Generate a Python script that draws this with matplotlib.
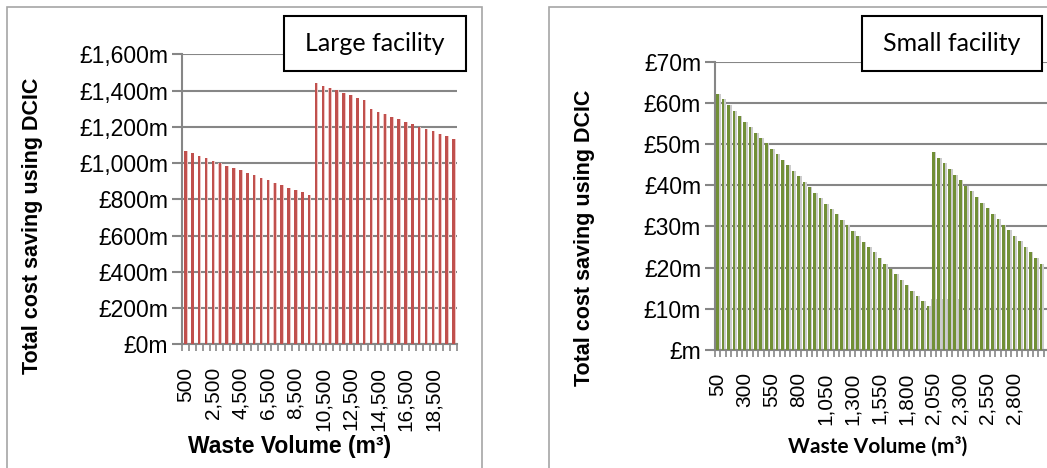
import numpy as np
import matplotlib
matplotlib.use("Agg")
import matplotlib.pyplot as plt
from matplotlib.patches import Rectangle
from matplotlib.ticker import FixedLocator

# large facility: waste volume 500..20,000 m3, step 500
large_volumes = list(range(500, 20001, 500))
large_saving = [1067, 1054, 1041, 1028, 1013, 999, 986, 973, 960, 945,
                932, 920, 907, 892, 879, 864, 851, 839, 824,
                1442, 1427, 1414, 1402, 1387, 1374, 1361, 1348, 1298, 1284,
                1269, 1256, 1243, 1228, 1214, 1201, 1188, 1175, 1162, 1148, 1135]

# small facility: waste volume 50..3,050 m3, step 50
small_volumes = list(range(50, 3051, 50))
small_saving = [62.1, 60.9, 59.4, 58.0, 56.7, 55.4, 54.1, 52.8, 51.4, 50.2,
                48.8, 47.5, 46.2, 44.9, 43.5, 42.2, 40.9, 39.5, 38.2, 36.9,
                35.5, 34.2, 32.9, 31.6, 30.3, 29.0, 27.6, 26.3, 25.0, 23.7,
                22.4, 21.0, 19.7, 18.4, 17.1, 15.8, 14.4, 13.1, 11.8, 10.8,
                48.0, 46.6, 45.3, 43.9, 42.6, 41.2, 39.9, 38.5, 37.2, 35.8,
                34.5, 33.1, 31.8, 30.4, 29.1, 27.7, 26.4, 25.0, 23.7, 22.3, 20.9]
# stray shadow block seen behind 2,050..2,300
small_shadow_vol = [2050, 2100, 2150, 2200, 2250, 2300]
small_shadow_val = [12.3, 12.3, 12.3, 12.3, 12.3, 12.3]

W, H = 1047, 468
fig = plt.figure(figsize=(W / 100, H / 100), dpi=100)

grid_c = "#868686"
arial = "Liberation Sans"


def px(x0, y0, x1, y1):
    return [x0 / W, 1 - y1 / H, (x1 - x0) / W, (y1 - y0) / H]


def style_axes(ax, n, label_step, n_labels):
    ax.set_xlim(-0.5, n - 0.5)
    for s in ["top", "right"]:
        ax.spines[s].set_visible(False)
    for s in ["left", "bottom"]:
        ax.spines[s].set_color(grid_c)
        ax.spines[s].set_linewidth(1.5)
    ax.yaxis.grid(True, color=grid_c, lw=1.5)
    ax.set_axisbelow(True)
    ax.tick_params(axis="y", length=7, width=1.5, color=grid_c, pad=3)
    ax.set_xticks(np.arange(n_labels) * label_step)
    ax.tick_params(axis="x", which="major", length=0, pad=16)
    ax.xaxis.set_minor_locator(FixedLocator(np.arange(-0.5, n, 1)))
    ax.tick_params(axis="x", which="minor", length=5, width=1.2, color=grid_c)


def place_labels(ax, xl, yl):
    ax.xaxis.label.set_va("center")
    ax.xaxis.set_label_coords(*xl)
    ax.yaxis.label.set_ha("center")
    ax.yaxis.label.set_va("center")
    ax.yaxis.set_label_coords(*yl)


# ---- left panel ----
ax1 = fig.add_axes(px(182, 54.3, 457, 344.3))
x1 = np.arange(len(large_volumes))
ax1.bar(x1 + 0.05, large_saving, width=0.5, color="#efc4c3", zorder=2)
ax1.bar(x1, large_saving, width=0.36, color="#c0504d", zorder=3)
style_axes(ax1, len(large_volumes), 4, 10)
ax1.set_ylim(0, 1600)
ax1.set_yticks(range(0, 1601, 200))
ax1.set_yticklabels([f"£{v:,}m" for v in range(0, 1601, 200)],
                    fontsize=16.5, family=arial)
ax1.set_xticklabels([f"{v:,}" for v in large_volumes[:40:4]], rotation=90,
                    fontsize=15, family=arial, va="top")
ax1.set_xlabel("Waste Volume (m³)", fontsize=16.5, family=arial,
               fontweight="bold")
ax1.set_ylabel("Total cost saving using DCIC", fontsize=15.5, family=arial,
               fontweight="bold")
place_labels(ax1, (0.391, -0.354), (-0.545, 0.408))

# ---- right panel ----
ax2 = fig.add_axes(px(715, 61.7, 1047, 350))
x2 = np.arange(len(small_volumes))
xs = [small_volumes.index(v) for v in small_shadow_vol]
ax2.bar(xs, small_shadow_val, width=1.0, color="#c4c4c4", zorder=1.5)
ax2.bar(x2 + 0.2, small_saving, width=0.75, color="#cccccc", zorder=2)
ax2.bar(x2, small_saving, width=0.5, color="#718f36", zorder=3)
style_axes(ax2, len(small_volumes), 5, 12)
ax2.set_xlim(-0.5, 61.1)
ax2.set_ylim(0, 70)
ax2.set_yticks(range(0, 71, 10))
ax2.set_yticklabels(["£m"] + [f"£{v}m" for v in range(10, 71, 10)],
                    fontsize=16.5, family=arial)
ax2.set_xticklabels([f"{v:,}" for v in small_volumes[:60:5]], rotation=90,
                    fontsize=15, family=arial, va="top")
ax2.set_xlabel("Waste Volume (m³)", fontsize=15, family="Lato",
               fontweight="bold")
ax2.set_ylabel("Total cost saving using DCIC", fontsize=15.5, family=arial,
               fontweight="bold")
place_labels(ax2, (0.491, -0.336), (-0.392, 0.388))

# outer frames and title boxes
for x0, x1_ in [(7, 482), (549, 1060)]:
    fig.patches.append(Rectangle((x0 / W, 1 - 475 / H), (x1_ - x0) / W, 468 / H,
                                 transform=fig.transFigure, fill=False,
                                 ec="#a6a6a6", lw=1.2, zorder=5))
for (x0, x1_), title in [((284, 466), "Large facility"),
                         ((862, 1042), "Small facility")]:
    fig.patches.append(Rectangle((x0 / W, 1 - 71.3 / H), (x1_ - x0) / W, 55.6 / H,
                                 transform=fig.transFigure, fc="white",
                                 ec="black", lw=1.5, zorder=6))
    fig.text((x0 + x1_) / 2 / W, 1 - 43.5 / H, title, fontsize=18,
             family="Lato", ha="center", va="center", zorder=7)

fig.savefig("out.png", dpi=100)
